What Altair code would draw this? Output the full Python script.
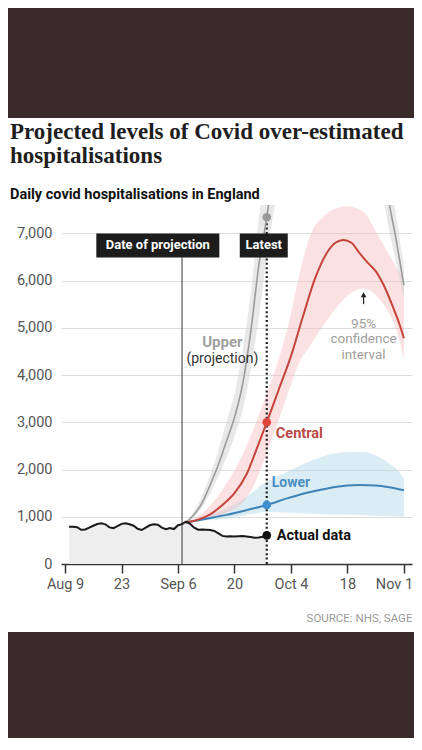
import altair as alt
import pandas as pd

START = pd.Timestamp("2021-08-09")

# ---------------- data (days counted from 9 Aug 2021) ----------------
actual_days = list(range(1, 51))
actual_values = [790, 790, 780, 725, 730, 770, 810, 845, 860, 840,
                 775, 760, 800, 850, 860, 840, 810, 745, 720, 770,
                 820, 840, 830, 770, 735, 760, 740, 820, 845, 895,
                 850, 770, 725, 730, 725, 720, 700, 650, 595, 582,
                 585, 582, 588, 592, 582, 570, 556, 562, 575, 605]

upper_days = [30, 32, 34, 36, 38, 40, 42, 44, 46, 48, 50, 52, 56, 62, 68, 74, 78, 80, 82, 84]
upper_values = [880, 1050, 1300, 1680, 2100, 2600, 3100, 3800, 4900, 6300, 7340, 8600,
                11000, 13500, 13500, 11500, 9000, 7800, 6900, 5900]
upper_lo = [880, 1000, 1200, 1500, 1850, 2250, 2700, 3250, 4100, 5200, 6500, 7600,
            9500, 12000, 12000, 10200, 8200, 7200, 6400, 5600]
upper_hi = [880, 1120, 1450, 1900, 2400, 3000, 3600, 4500, 5700, 7300, 8500, 9800,
            12500, 15000, 15000, 12800, 9800, 8400, 7400, 6300]

central_days = [30, 33, 36, 39, 42, 45, 48, 50, 53, 56, 59, 62, 65, 67, 69, 71, 73, 75, 77, 79, 81, 83, 84]
central_values = [880, 940, 1050, 1250, 1500, 1900, 2550, 3000, 3700, 4400, 5250, 6050,
                  6600, 6800, 6860, 6800, 6580, 6380, 6200, 5900, 5500, 5050, 4780]
central_band_days = [30, 35, 40, 45, 48, 50, 53, 56, 58, 61, 64, 67, 70, 74, 77, 80, 82, 84]
central_lo = [880, 930, 1080, 1400, 1900, 2350, 3050, 3800, 4250, 4650, 5050, 5400,
              5680, 5830, 5700, 5350, 5000, 4320]
central_hi = [880, 1150, 1700, 2500, 3150, 3600, 4350, 5300, 6100, 7000, 7350, 7520,
              7570, 7450, 7050, 6600, 6300, 6050]

lower_days = [30, 35, 40, 45, 50, 55, 60, 65, 70, 73, 77, 80, 84]
lower_values = [880, 960, 1040, 1140, 1250, 1390, 1510, 1600, 1660, 1670, 1660, 1630, 1560]
lower_band_days = [30, 35, 40, 45, 50, 55, 60, 65, 70, 74, 77, 80, 82, 84]
lower_lo = [880, 920, 960, 1040, 1100, 1090, 1070, 1050, 1040, 1030, 1020, 1010, 1005, 1000]
lower_hi = [880, 1000, 1180, 1420, 1750, 1950, 2150, 2300, 2370, 2370, 2300, 2150, 2020, 1810]

projection_day = 29   # 7 Sep
latest_day = 50       # 28 Sep
latest_values = [7340, 3000, 1250, 605]

y_ticks = [0, 1000, 2000, 3000, 4000, 5000, 6000, 7000]
x_ticks = [(2021, 8, 9), (2021, 8, 23), (2021, 9, 6), (2021, 9, 20),
           (2021, 10, 4), (2021, 10, 18), (2021, 11, 1)]

title_lines = ["Projected levels of Covid over-estimated", "hospitalisations"]
subtitle_text = "Daily covid hospitalisations in England"
source_text = "SOURCE: NHS, SAGE"


def dates(days):
    return [(START + pd.Timedelta(days=int(d))).strftime("%Y-%m-%d") for d in days]


# ---------------- scales / axes ----------------
X_SCALE = alt.Scale(type="utc", domain=[alt.DateTime(year=2021, month=8, date=8, utc=True),
                                        alt.DateTime(year=2021, month=11, date=3, utc=True)])
X_AXIS = alt.Axis(
    values=[alt.DateTime(year=y, month=m, date=d, utc=True) for y, m, d in x_ticks],
    labelExpr="utcdate(datum.value) < 10 ? utcFormat(datum.value, '%b %-d') : utcFormat(datum.value, '%-d')",
    labelOffset={"condition": {"test": "utcmonth(datum.value) == 10", "value": -10}, "value": 0},
    grid=False, domainColor="#333333", domainWidth=1.5, tickColor="#333333", tickWidth=1.5,
    tickSize=9, labelPadding=4, labelFont="Roboto", labelFontSize=14.5, labelColor="#555555",
    title=source_text, titleFont="Roboto", titleFontSize=11.5, titleFontWeight="normal",
    titleColor="#9a9a9a", titleAnchor="end", titlePadding=22,
)
Y_SCALE = alt.Scale(domain=[0, 7600], nice=False)
Y_AXIS = alt.Axis(values=y_ticks, format=",.0f", domain=False, ticks=False, grid=True,
                  gridColor="#dcdcdc", gridWidth=1, labelPadding=9, labelFont="Roboto",
                  labelFontSize=14.5, labelColor="#555555", title=None)


def X():
    return alt.X("date:T", scale=X_SCALE, axis=X_AXIS)


def Y(f):
    return alt.Y(f"{f}:Q", scale=Y_SCALE, axis=Y_AXIS)


# ---------------- tables ----------------
actual_df = pd.DataFrame({"date": dates(actual_days), "v": actual_values})
upper_df = pd.DataFrame({"date": dates(upper_days), "v": upper_values, "lo": upper_lo, "hi": upper_hi})
central_df = pd.DataFrame({"date": dates(central_days), "v": central_values})
central_band_df = pd.DataFrame({"date": dates(central_band_days), "lo": central_lo, "hi": central_hi})
lower_df = pd.DataFrame({"date": dates(lower_days), "v": lower_values})
lower_band_df = pd.DataFrame({"date": dates(lower_band_days), "lo": lower_lo, "hi": lower_hi})

# ---------------- layers ----------------
frame = pd.DataFrame({"k": [0]})
top_band = alt.Chart(frame).mark_rect(color="#3a2b2b").encode(
    x=alt.value(-53), x2=alt.value(353), y=alt.value(-197), y2=alt.value(-87))
bottom_band = alt.Chart(frame).mark_rect(color="#3a2b2b").encode(
    x=alt.value(-53), x2=alt.value(353), y=alt.value(427), y2=alt.value(540))

actual_fill = alt.Chart(actual_df).mark_area(color="#eeeeee").encode(x=X(), y=Y("v"))

lower_band = alt.Chart(lower_band_df).mark_area(
    color="#a6d4e6", opacity=0.42, interpolate="monotone", clip=True).encode(x=X(), y=Y("lo"), y2="hi:Q")
central_band = alt.Chart(central_band_df).mark_area(
    color="#f5b8b8", opacity=0.42, interpolate="monotone", clip=True).encode(x=X(), y=Y("lo"), y2="hi:Q")
upper_band = alt.Chart(upper_df).mark_area(
    color="#d2d2d2", opacity=0.5, interpolate="monotone", clip=True).encode(x=X(), y=Y("lo"), y2="hi:Q")

proj_rule = alt.Chart(pd.DataFrame({"date": dates([projection_day]), "v": [0], "v2": [6490]})).mark_rule(
    color="#555555", strokeWidth=1.2).encode(x=X(), y=Y("v"), y2="v2:Q")
latest_rule = alt.Chart(pd.DataFrame({"date": dates([latest_day]), "v": [0], "v2": [latest_values[0]]})).mark_rule(
    color="#222222", strokeWidth=2.2, strokeDash=[2, 2.4]).encode(x=X(), y=Y("v"), y2="v2:Q")

upper_line = alt.Chart(upper_df).mark_line(
    color="#9b9b9b", strokeWidth=1.6, interpolate="monotone", clip=True).encode(x=X(), y=Y("v"))
lower_line = alt.Chart(lower_df).mark_line(
    color="#3f84b8", strokeWidth=2, interpolate="monotone", clip=True).encode(x=X(), y=Y("v"))
central_line = alt.Chart(central_df).mark_line(
    color="#c4443d", strokeWidth=2, interpolate="monotone", clip=True).encode(x=X(), y=Y("v"))
actual_line = alt.Chart(actual_df).mark_line(color="#1a1a1a", strokeWidth=2).encode(x=X(), y=Y("v"))

dots_df = pd.DataFrame({"date": dates([latest_day] * 4), "v": latest_values,
                        "c": ["#9a9a9a", "#e0443c", "#3d8fd0", "#111111"]})
dots = alt.Chart(dots_df).mark_circle(size=75, opacity=1).encode(
    x=X(), y=Y("v"), color=alt.Color("c:N", scale=None))

# arrow under the lower edge of the central interval
arrow_df = pd.DataFrame({"date": dates([74]), "v": [5500], "v2": [5700]})
arrow_shaft = alt.Chart(arrow_df).mark_rule(color="#222222", strokeWidth=1.2).encode(
    x=X(), y=Y("v"), y2="v2:Q")
arrow_head = alt.Chart(arrow_df).mark_point(shape="triangle-up", filled=True, size=32,
                                            color="#222222", opacity=1).encode(x=X(), y=Y("v2"))

# label boxes
box_df = pd.DataFrame({"date": dates([23, latest_day]), "v": [6745, 6745],
                       "label": ["Date of projection", "Latest"]})
box_proj = alt.Chart(box_df.iloc[[0]]).mark_rect(
    color="#1c1c1c", xOffset=-61.5, x2Offset=61.5, yOffset=-12, y2Offset=12).encode(
    x=X(), x2="date:T", y=Y("v"), y2="v:Q")
box_latest = alt.Chart(box_df.iloc[[1]]).mark_rect(
    color="#1c1c1c", xOffset=-27, x2Offset=21, yOffset=-12, y2Offset=12).encode(
    x=X(), x2="date:T", y=Y("v"), y2="v:Q")
box_text_proj = alt.Chart(box_df.iloc[[0]]).mark_text(
    font="Roboto", fontSize=13, fontWeight="bold", color="white", baseline="middle").encode(
    x=X(), y=Y("v"), text="label:N")
box_text_latest = alt.Chart(box_df.iloc[[1]]).mark_text(
    font="Roboto", fontSize=13, fontWeight="bold", color="white", baseline="middle", dx=-3).encode(
    x=X(), y=Y("v"), text="label:N")


def text_layer(labels, days, values, color, size, weight="bold", align="left", dx=0):
    df = pd.DataFrame({"date": dates(days), "v": values, "label": labels})
    return alt.Chart(df).mark_text(align=align, baseline="alphabetic", dx=dx, font="Roboto",
                                   fontSize=size, fontWeight=weight, color=color).encode(
        x=X(), y=Y("v"), text="label:N")


t_upper = text_layer(["Upper"], [39], [4590], "#a0a0a0", 15, align="center")
t_proj = text_layer(["(projection)"], [39], [4250], "#333333", 14, weight="normal", align="center")
t_ci = text_layer(["95%", "confidence", "interval"], [74, 74, 74], [4990, 4673, 4335],
                  "#a0a0a0", 13.5, weight="normal", align="center")
t_central = text_layer(["Central"], [52], [2664], "#b94a45", 14.5, dx=1)
t_lower = text_layer(["Lower"], [51], [1634], "#4a8fc4", 14, dx=1)
t_actual = text_layer(["Actual data"], [52], [507], "#111111", 14.5, dx=2)

chart = alt.layer(
    top_band, bottom_band, actual_fill, lower_band, central_band, upper_band,
    proj_rule, latest_rule, upper_line, lower_line, central_line, actual_line,
    dots, arrow_shaft, arrow_head, box_proj, box_latest, box_text_proj, box_text_latest,
    t_upper, t_proj, t_ci, t_central, t_lower, t_actual,
).properties(
    width=351, height=359,
    autosize=alt.AutoSizeParams(type="none"),
    padding={"left": 53, "top": 197, "right": 2, "bottom": 174},
    background="white",
    title=alt.TitleParams(
        text=title_lines, subtitle=subtitle_text, anchor="start", frame="group", dx=-51,
        offset=-193, font="Liberation Serif", fontSize=23, fontWeight="bold", color="#1e1e1e",
        lineHeight=24, subtitleFont="Roboto", subtitleFontSize=14.5, subtitleFontWeight="bold",
        subtitleColor="#111111", subtitlePadding=20,
    ),
).configure_view(stroke=None)

chart.save("out.html", embed_options={"renderer": "svg", "actions": False})
